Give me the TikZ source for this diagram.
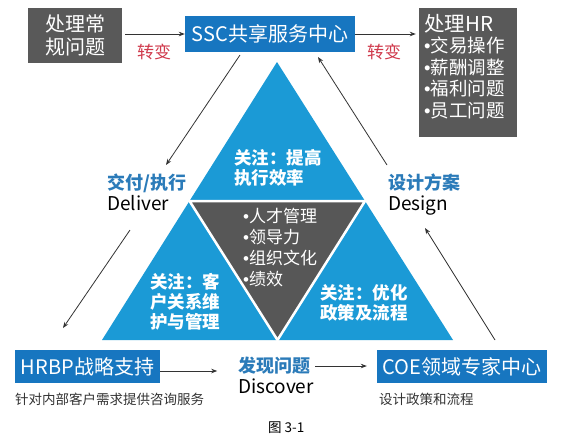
\documentclass[tikz,border=0pt]{standalone}
\usepackage{fontspec}
\setmainfont{Noto Sans CJK SC}
\newfontfamily\bfont{Liberation Sans}
\newcommand{\bul}{{\bfont •}}
\usetikzlibrary{arrows.meta,calc}
\definecolor{tblue}{HTML}{1B9AD6}
\definecolor{bblue}{HTML}{1776C0}
\definecolor{dgray}{HTML}{595959}
\definecolor{tgray}{HTML}{575757}
\definecolor{lblue}{HTML}{2B7BB9}
\definecolor{redt}{HTML}{D03A4C}
\definecolor{arr}{HTML}{333333}
\tikzset{
 graybox/.style={fill=dgray, text=white, inner sep=0pt, align=left},
 bluebox/.style={fill=bblue, text=white, inner sep=0pt, font=\fontsize{20}{23}\selectfont},
 conn/.style={draw=arr, line width=0.8pt, -{Stealth[length=6pt,width=4.5pt]}},
 redlab/.style={text=redt, font=\fontsize{17}{20}\selectfont, inner sep=0pt},
 blab/.style={text=lblue, font=\bfseries\fontsize{18}{21}\selectfont, inner sep=0pt, anchor=west},
 elab/.style={text=black, font=\fontsize{19}{21}\selectfont, inner sep=0pt, anchor=base west},
 tritext/.style={text=white, font=\bfseries\fontsize{17.5}{20}\selectfont, align=left, inner sep=0pt},
 listtext/.style={text=white, font=\fontsize{17}{21}\selectfont, align=left, inner sep=0pt},
 smalltext/.style={font=\fontsize{13.5}{16}\selectfont, text=arr, inner sep=0pt, anchor=west},
}
\begin{document}
\begin{tikzpicture}[x=1pt,y=-1pt]
\useasboundingbox[fill=white] (0,0) rectangle (567,440);

% pyramid
\coordinate (A) at (277,62);
\coordinate (B) at (102,340);
\coordinate (C) at (453,340);
\fill[tblue] (A) -- (B) -- (C) -- cycle;
\filldraw[fill=tgray, draw=white, line width=2.5pt, line join=round]
  ($(A)!0.5!(B)$) -- ($(A)!0.5!(C)$) -- ($(B)!0.5!(C)$) -- cycle;

\node[tritext] (ttop) at (278,168) {关注：提高\\执行效率};
\node[listtext, anchor=west] (tmid) at (243,248) {\bul 人才管理\\\bul 领导力\\\bul 组织文化\\\bul 绩效};
\node[tritext] (tbl) at (185,302) {关注：客\\户关系维\\护与管理};
\node[tritext] (tbr) at (364,303) {关注：优化\\政策及流程};

% top row
\node[graybox, minimum width=94, minimum height=55, font=\fontsize{20}{23}\selectfont] (p1) at (75,35.5) {处理常\\规问题};
\node[bluebox, minimum width=170, minimum height=36] (ssc) at (270,34) {SSC共享服务中心};
\node[graybox, minimum width=98, minimum height=129] (hr) at (468,72.5) {};
\node[text=white, align=left, inner sep=0pt, anchor=north west, font=\fontsize{18.5}{21.5}\selectfont] (hrt) at (424,14) {{\fontsize{20.5}{21.5}\selectfont 处理HR}\\\bul 交易操作\\\bul 薪酬调整\\\bul 福利问题\\\bul 员工问题};

\draw[conn, shorten <=3pt] (p1.east |- ssc.west) -- (ssc.west);
\draw[conn, shorten >=3pt] (ssc.east) -- (hr.west |- ssc.east);
\node[redlab] (r1) at (154,52) {转变};
\node[redlab] (r2) at (384,52) {转变};

% side labels
\node[blab] (dl) at (107,183) {交付/执行};
\node[elab] (dle) at (107,210) {Deliver};
\node[blab] (ds) at (388,183) {设计方案};
\node[elab] (dse) at (388,210) {Design};

\coordinate (d1s) at (240,55);
\coordinate (d1e) at (166,165);
\coordinate (d2s) at (130,230);
\coordinate (d2e) at (63,328);
\coordinate (d3s) at (495,340);
\coordinate (d3e) at (425,228);
\coordinate (d4s) at (387,165);
\coordinate (d4e) at (318,57);
\draw[conn] (d1s) -- (d1e);
\draw[conn] (d2s) -- (d2e);
\draw[conn] (d3s) -- (d3e);
\draw[conn] (d4s) -- (d4e);

% bottom row
\node[bluebox, minimum width=145, minimum height=33] (hrbp) at (87.5,366.5) {HRBP战略支持};
\node[bluebox, minimum width=170, minimum height=33] (coe) at (462,366.5) {COE领域专家中心};
\node[blab] (fx) at (238,366) {发现问题};
\node[elab] (fxe) at (238,393) {Discover};
\draw[conn] ([yshift=-4.5pt]hrbp.east) -- ++(57,0);
\draw[conn, shorten <=5pt, shorten >=10pt] (fx.east) -- (coe.west |- fx.east);

\node[smalltext] (hrbpt) at (15,399) {针对内部客户需求提供咨询服务};
\node[smalltext] (coet) at (379,399) {设计政策和流程};
\node[smalltext, text=black] (cap) at (268,428) {图 3-1};
\end{tikzpicture}
\end{document}
